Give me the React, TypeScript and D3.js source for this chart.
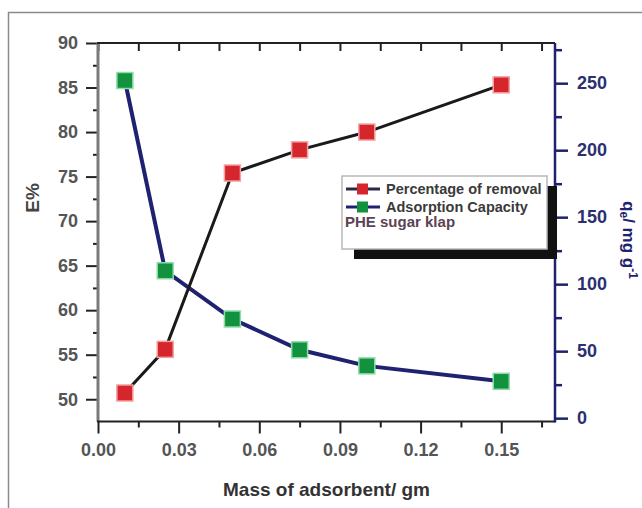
import React, { useEffect, useRef } from "react";
import * as d3 from "d3";

const WIDTH = 642;
const HEIGHT = 508;

// adsorbent mass (gm)
const mass = [0.01, 0.025, 0.05, 0.075, 0.1, 0.15];
// percentage of removal, E%
const removal = [50.7, 55.6, 75.4, 78.0, 80.0, 85.3];
// adsorption capacity, qe (mg g-1)
const capacity = [252, 110, 74, 51, 39, 27.5];

const xTicks = [0, 0.03, 0.06, 0.09, 0.12, 0.15];
const xMinor = [0.015, 0.045, 0.075, 0.105, 0.135, 0.165];
const leftTicks = [50, 55, 60, 65, 70, 75, 80, 85, 90];
const leftMinor = [52.5, 57.5, 62.5, 67.5, 72.5, 77.5, 82.5, 87.5];
const rightTicks = [0, 50, 100, 150, 200, 250];
const rightMinor = [25, 75, 125, 175, 225, 275];

const legendLabels = ["Percentage of removal", "Adsorption Capacity"];
const legendNote = "PHE sugar klap";

const FONT = "'Liberation Sans', Arial, sans-serif";
const RED = "#d6262d";
const GREEN = "#12913e";
const NAVY = "#1f2270";

const App: React.FC = () => {
  const ref = useRef<SVGSVGElement>(null);

  useEffect(() => {
    if (!ref.current) return;
    const svg = d3.select(ref.current);
    svg.selectAll("*").remove();

    const left = 98;
    const right = 555;
    const top = 43;
    const bottom = 421.5;

    const x = d3.scaleLinear().domain([0, 0.17]).range([left, right]);
    const yL = d3.scaleLinear().domain([47.5, 90]).range([bottom, top]);
    const yR = d3.scaleLinear().domain([-2.5, 280]).range([bottom, top]);

    svg.append("rect").attr("width", WIDTH).attr("height", HEIGHT).attr("fill", "#fff");

    // outer frame (cut off at the right and bottom)
    svg
      .append("rect")
      .attr("x", 8.5)
      .attr("y", 12.5)
      .attr("width", 700)
      .attr("height", 600)
      .attr("fill", "none")
      .attr("stroke", "#8a8a8a")
      .attr("stroke-width", 1.5);

    const styleAxis = (g: any, color: string, width: number) => {
      g.select(".domain").remove();
      g.selectAll("line").attr("stroke", color).attr("stroke-width", width);
    };

    // bottom axis
    const gb = svg.append("g").attr("transform", `translate(0,${bottom})`);
    gb.call(d3.axisBottom(x).tickValues(xTicks).tickSize(12).tickFormat(d3.format(".2f")))
      .call((g: any) => styleAxis(g, "#222", 2));
    gb.selectAll("text")
      .attr("y", 22)
      .attr("font-family", FONT)
      .attr("font-size", 18)
      .attr("font-weight", "bold")
      .attr("fill", "#555");
    svg.append("g").attr("transform", `translate(0,${bottom})`)
      .call(d3.axisBottom(x).tickValues(xMinor).tickSize(6).tickFormat(() => ""))
      .call((g: any) => styleAxis(g, "#222", 2));

    // top axis, inward ticks
    svg.append("g").attr("transform", `translate(0,${top})`)
      .call(d3.axisBottom(x).tickValues([...xTicks, ...xMinor]).tickSize(8).tickFormat(() => ""))
      .call((g: any) => styleAxis(g, "#222", 2));

    // left axis
    const gl = svg.append("g").attr("transform", `translate(${left},0)`);
    gl.call(d3.axisLeft(yL).tickValues(leftTicks).tickSize(12))
      .call((g: any) => styleAxis(g, "#222", 2));
    gl.selectAll("text")
      .attr("x", -20)
      .attr("font-family", FONT)
      .attr("font-size", 18)
      .attr("font-weight", "bold")
      .attr("fill", "#555");
    svg.append("g").attr("transform", `translate(${left},0)`)
      .call(d3.axisLeft(yL).tickValues(leftMinor).tickSize(5).tickFormat(() => ""))
      .call((g: any) => styleAxis(g, "#222", 2));

    // right axis
    const gr = svg.append("g").attr("transform", `translate(${right},0)`);
    gr.call(d3.axisRight(yR).tickValues(rightTicks).tickSize(13))
      .call((g: any) => styleAxis(g, NAVY, 2.5));
    gr.selectAll("text")
      .attr("x", 22)
      .attr("font-family", FONT)
      .attr("font-size", 18)
      .attr("font-weight", "bold")
      .attr("fill", "#2b3170");
    svg.append("g").attr("transform", `translate(${right},0)`)
      .call(d3.axisRight(yR).tickValues(rightMinor).tickSize(7).tickFormat(() => ""))
      .call((g: any) => styleAxis(g, NAVY, 2.5));

    // spines
    svg.append("line").attr("x1", left).attr("x2", left).attr("y1", top).attr("y2", bottom)
      .attr("stroke", "#7a7a7a").attr("stroke-width", 3);
    svg.append("line").attr("x1", left - 1).attr("x2", right).attr("y1", top).attr("y2", top)
      .attr("stroke", "#222").attr("stroke-width", 2);
    svg.append("line").attr("x1", left - 1).attr("x2", right).attr("y1", bottom).attr("y2", bottom)
      .attr("stroke", "#222").attr("stroke-width", 2);
    svg.append("line").attr("x1", right).attr("x2", right).attr("y1", top).attr("y2", bottom + 1)
      .attr("stroke", NAVY).attr("stroke-width", 2.5);

    // axis titles
    svg.append("text")
      .attr("x", (left + right) / 2)
      .attr("y", 496)
      .attr("text-anchor", "middle")
      .attr("font-family", FONT)
      .attr("font-size", 19)
      .attr("font-weight", "bold")
      .attr("fill", "#333")
      .text("Mass of adsorbent/ gm");

    svg.append("text")
      .attr("transform", "translate(39,198) rotate(-90)")
      .attr("text-anchor", "middle")
      .attr("font-family", FONT)
      .attr("font-size", 19)
      .attr("font-weight", "bold")
      .attr("fill", "#444")
      .text("E%");

    const rt = svg.append("text")
      .attr("transform", "translate(623,240) rotate(90)")
      .attr("text-anchor", "middle")
      .attr("font-family", FONT)
      .attr("font-size", 17)
      .attr("font-weight", "bold")
      .attr("fill", NAVY);
    rt.append("tspan").text("q");
    rt.append("tspan").attr("font-size", 12).attr("dy", 3).text("e");
    rt.append("tspan").attr("dy", -3).text("/ mg g");
    rt.append("tspan").attr("font-size", 12).attr("dy", -6).text("-1");

    const pts = mass.map((m, i) => ({ m, r: removal[i], c: capacity[i] }));

    // lines
    svg.append("path")
      .datum(pts)
      .attr("fill", "none")
      .attr("stroke", NAVY)
      .attr("stroke-width", 4)
      .attr("d", d3.line<any>().x((d) => x(d.m)).y((d) => yR(d.c)));

    svg.append("path")
      .datum(pts)
      .attr("fill", "none")
      .attr("stroke", "#1a1a1a")
      .attr("stroke-width", 3)
      .attr("d", d3.line<any>().x((d) => x(d.m)).y((d) => yL(d.r)));

    const S = 16;
    svg.selectAll("rect.cap")
      .data(pts)
      .enter()
      .append("rect")
      .attr("class", "cap")
      .attr("x", (d) => x(d.m) - S / 2)
      .attr("y", (d) => yR(d.c) - S / 2)
      .attr("width", S)
      .attr("height", S)
      .attr("fill", GREEN)
      .attr("stroke", "#8fdcaa")
      .attr("stroke-width", 1.5);

    svg.selectAll("rect.rem")
      .data(pts)
      .enter()
      .append("rect")
      .attr("class", "rem")
      .attr("x", (d) => x(d.m) - S / 2)
      .attr("y", (d) => yL(d.r) - S / 2)
      .attr("width", S)
      .attr("height", S)
      .attr("fill", RED)
      .attr("stroke", "#f3a0a0")
      .attr("stroke-width", 1.5);

    // legend with drop shadow
    const lx = 342;
    const ly = 176;
    const lw = 205;
    const lh = 73;
    svg.append("rect")
      .attr("x", lx + 12).attr("y", ly + 10).attr("width", lw - 2).attr("height", lh)
      .attr("fill", "#111");
    svg.append("rect")
      .attr("x", lx).attr("y", ly).attr("width", lw).attr("height", lh)
      .attr("fill", "#fff").attr("stroke", "#b8b8b8").attr("stroke-width", 1.5);

    const lcolors = [RED, GREEN];
    const llines = ["#2a2a4a", NAVY];
    legendLabels.forEach((label, i) => {
      const yy = ly + 13 + i * 18;
      svg.append("line")
        .attr("x1", lx + 4).attr("x2", lx + 38).attr("y1", yy).attr("y2", yy)
        .attr("stroke", llines[i]).attr("stroke-width", 3);
      svg.append("rect")
        .attr("x", lx + 15).attr("y", yy - 5.5).attr("width", 11).attr("height", 11)
        .attr("fill", lcolors[i]);
      svg.append("text")
        .attr("x", lx + 44).attr("y", yy + 5)
        .attr("font-family", FONT)
        .attr("font-size", 14.5)
        .attr("font-weight", "bold")
        .attr("fill", "#3a3a3a")
        .text(label);
    });
    svg.append("text")
      .attr("x", lx + 3).attr("y", ly + 51)
      .attr("font-family", FONT)
      .attr("font-size", 15)
      .attr("font-weight", "bold")
      .attr("fill", "#5a4454")
      .text(legendNote);
  }, []);

  return (
    <svg
      ref={ref}
      width={WIDTH}
      height={HEIGHT}
      viewBox={`0 0 ${WIDTH} ${HEIGHT}`}
      style={{ position: "absolute", left: 0, top: 0, display: "block" }}
    />
  );
};

export default App;
